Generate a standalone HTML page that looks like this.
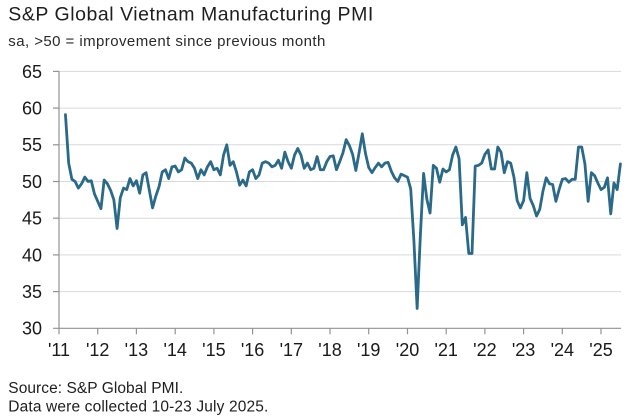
<!DOCTYPE html>
<html>
<head>
<meta charset="utf-8">
<style>
  html, body { margin: 0; padding: 0; background: #ffffff; }
  svg { display: block; }
  text { font-family: "Liberation Sans", Arial, sans-serif; }
</style>
</head>
<body>
<svg width="640" height="420" viewBox="0 0 640 420" xmlns="http://www.w3.org/2000/svg">
  <rect width="640" height="420" fill="#ffffff"/>

  <!-- Title & subtitle -->
  <text x="8.3" y="20.7" font-size="19.5" fill="#1e1e1e" textLength="365" lengthAdjust="spacing">S&amp;P Global Vietnam Manufacturing PMI</text>
  <text x="8.3" y="46" font-size="15" fill="#2a2a2a" textLength="317" lengthAdjust="spacing">sa, &gt;50 = improvement since previous month</text>

  <!-- Gridlines -->
  <g stroke="#d9d9d9" stroke-width="1">
    <line x1="59" y1="71.4" x2="621" y2="71.4"/>
    <line x1="59" y1="108.1" x2="621" y2="108.1"/>
    <line x1="59" y1="144.8" x2="621" y2="144.8"/>
    <line x1="59" y1="181.5" x2="621" y2="181.5"/>
    <line x1="59" y1="218.2" x2="621" y2="218.2"/>
    <line x1="59" y1="254.9" x2="621" y2="254.9"/>
    <line x1="59" y1="291.6" x2="621" y2="291.6"/>
  </g>

  <!-- Axes -->
  <g stroke="#939393" stroke-width="1.2">
    <line x1="59" y1="71.4" x2="59" y2="328.3"/>
    <line x1="53" y1="328.3" x2="621" y2="328.3"/>
    <!-- y ticks -->
    <line x1="53" y1="71.4" x2="59" y2="71.4"/>
    <line x1="53" y1="108.1" x2="59" y2="108.1"/>
    <line x1="53" y1="144.8" x2="59" y2="144.8"/>
    <line x1="53" y1="181.5" x2="59" y2="181.5"/>
    <line x1="53" y1="218.2" x2="59" y2="218.2"/>
    <line x1="53" y1="254.9" x2="59" y2="254.9"/>
    <line x1="53" y1="291.6" x2="59" y2="291.6"/>
    <!-- x ticks -->
    <line x1="59" y1="328.3" x2="59" y2="334.3"/>
    <line x1="97.7" y1="328.3" x2="97.7" y2="334.3"/>
    <line x1="136.4" y1="328.3" x2="136.4" y2="334.3"/>
    <line x1="175.2" y1="328.3" x2="175.2" y2="334.3"/>
    <line x1="213.9" y1="328.3" x2="213.9" y2="334.3"/>
    <line x1="252.6" y1="328.3" x2="252.6" y2="334.3"/>
    <line x1="291.3" y1="328.3" x2="291.3" y2="334.3"/>
    <line x1="330.0" y1="328.3" x2="330.0" y2="334.3"/>
    <line x1="368.7" y1="328.3" x2="368.7" y2="334.3"/>
    <line x1="407.5" y1="328.3" x2="407.5" y2="334.3"/>
    <line x1="446.2" y1="328.3" x2="446.2" y2="334.3"/>
    <line x1="484.9" y1="328.3" x2="484.9" y2="334.3"/>
    <line x1="523.6" y1="328.3" x2="523.6" y2="334.3"/>
    <line x1="562.3" y1="328.3" x2="562.3" y2="334.3"/>
    <line x1="601.0" y1="328.3" x2="601.0" y2="334.3"/>
  </g>

  <!-- Y labels -->
  <g font-size="18" fill="#1a1a1a" text-anchor="end">
    <text x="42" y="77.8">65</text>
    <text x="42" y="114.5">60</text>
    <text x="42" y="151.2">55</text>
    <text x="42" y="187.9">50</text>
    <text x="42" y="224.6">45</text>
    <text x="42" y="261.3">40</text>
    <text x="42" y="298.0">35</text>
    <text x="42" y="334.7">30</text>
  </g>

  <!-- X labels -->
  <g font-size="18" fill="#1a1a1a" text-anchor="middle">
    <text x="59" y="356">'11</text>
    <text x="97.7" y="356">'12</text>
    <text x="136.4" y="356">'13</text>
    <text x="175.2" y="356">'14</text>
    <text x="213.9" y="356">'15</text>
    <text x="252.6" y="356">'16</text>
    <text x="291.3" y="356">'17</text>
    <text x="330.0" y="356">'18</text>
    <text x="368.7" y="356">'19</text>
    <text x="407.5" y="356">'20</text>
    <text x="446.2" y="356">'21</text>
    <text x="484.9" y="356">'22</text>
    <text x="523.6" y="356">'23</text>
    <text x="562.3" y="356">'24</text>
    <text x="601.0" y="356">'25</text>
  </g>

  <!-- Data line: x = month index from Jan 2011, y = PMI value -->
  <polyline fill="none" stroke="#2a6a88" stroke-width="2.8" stroke-linejoin="round" stroke-linecap="round"
    vector-effect="non-scaling-stroke"
    transform="translate(59,548.5) scale(3.2265,-7.34)"
    points="2,59.1 3,52.5 4,50.3 5,50.0 6,49.1 7,49.7 8,50.6 9,50.0 10,50.1 11,48.3 12,47.3 13,46.3 14,50.2 15,49.7 16,48.8 17,47.5 18,43.6 19,47.8 20,49.1 21,48.9 22,50.4 23,49.4 24,50.1 25,48.4 26,50.9 27,51.2 28,48.8 29,46.4 30,48.0 31,49.3 32,51.3 33,51.6 34,50.4 35,52.0 36,52.1 37,51.3 38,51.6 39,53.2 40,52.7 41,52.5 42,51.8 43,50.4 44,51.6 45,50.9 46,52.0 47,52.7 48,51.6 49,51.8 50,50.9 51,53.6 52,55.0 53,52.2 54,52.7 55,51.3 56,49.5 57,50.2 58,49.4 59,51.3 60,51.6 61,50.4 62,50.9 63,52.5 64,52.7 65,52.5 66,52.0 67,52.2 68,52.9 69,51.8 70,54.0 71,52.7 72,51.8 73,53.6 74,54.5 75,53.6 76,51.8 77,52.5 78,51.6 79,51.8 80,53.4 81,51.6 82,51.6 83,52.7 84,53.4 85,53.5 86,51.6 87,52.7 88,53.9 89,55.7 90,54.9 91,53.7 92,51.5 93,53.9 94,56.5 95,53.8 96,51.9 97,51.2 98,51.9 99,52.5 100,52.0 101,52.5 102,52.6 103,51.4 104,50.5 105,50.0 106,51.0 107,50.8 108,50.6 109,49.0 110,41.9 111,32.7 112,42.7 113,51.1 114,47.6 115,45.7 116,52.2 117,51.8 118,49.9 119,51.7 120,51.3 121,51.6 122,53.6 123,54.7 124,53.1 125,44.1 126,45.1 127,40.2 128,40.2 129,52.1 130,52.2 131,52.5 132,53.7 133,54.3 134,51.7 135,51.7 136,54.7 137,54.0 138,51.2 139,52.7 140,52.5 141,50.6 142,47.4 143,46.4 144,47.4 145,51.2 146,47.7 147,46.7 148,45.3 149,46.2 150,48.7 151,50.5 152,49.7 153,49.6 154,47.3 155,48.9 156,50.3 157,50.4 158,49.9 159,50.3 160,50.3 161,54.7 162,54.7 163,52.4 164,47.3 165,51.2 166,50.8 167,49.8 168,48.9 169,49.2 170,50.5 171,45.6 172,49.8 173,48.9 174,52.4"/>

  <!-- Footer -->
  <text x="8.3" y="393" font-size="15.5" fill="#1e1e1e" textLength="175" lengthAdjust="spacing">Source: S&amp;P Global PMI.</text>
  <text x="8.3" y="411.5" font-size="15.5" fill="#1e1e1e" textLength="260" lengthAdjust="spacing">Data were collected 10-23 July 2025.</text>
</svg>
</body>
</html>
